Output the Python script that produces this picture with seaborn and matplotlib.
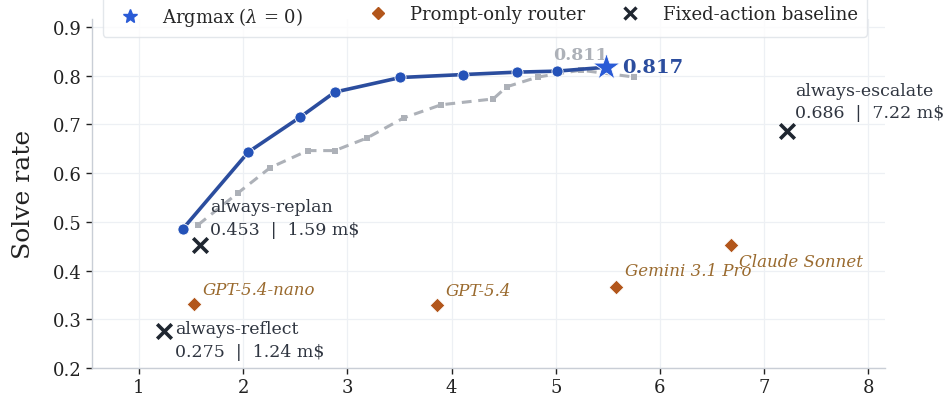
import pandas as pd
import seaborn as sns
import matplotlib.pyplot as plt
from matplotlib.lines import Line2D

# learned router, lambda sweep (cost in m$, solve rate)
front_cost = [1.42, 2.05, 2.55, 2.88, 3.51, 4.11, 4.63, 5.01, 5.48]
front_solve = [0.485, 0.643, 0.715, 0.766, 0.796, 0.802, 0.807, 0.809, 0.817]

# greedy threshold sweep
greedy_cost = [1.57, 1.95, 2.26, 2.62, 2.88, 3.19, 3.54, 3.90, 4.40, 4.53, 4.83, 5.24, 5.75]
greedy_solve = [0.494, 0.559, 0.611, 0.646, 0.646, 0.672, 0.713, 0.740, 0.752, 0.777, 0.797, 0.811, 0.797]

argmax_cost = [5.48]
argmax_solve = [0.817]

prompt_names = ["GPT-5.4-nano", "GPT-5.4", "Gemini 3.1 Pro", "Claude Sonnet"]
prompt_cost = [1.53, 3.86, 5.58, 6.68]
prompt_solve = [0.331, 0.329, 0.367, 0.453]

fixed_names = ["always-replan", "always-reflect", "always-escalate"]
fixed_cost = [1.59, 1.24, 7.22]
fixed_solve = [0.453, 0.275, 0.686]

BLUE_LINE = "#2b4d9e"
BLUE_DOT = "#2452b8"
BLUE_STAR = "#2a5bd6"
GRAY = "#adb1b8"
BROWN = "#b2561b"
BROWN_TXT = "#9a6a2e"
DARK = "#1f2630"
TXT = "#2f3540"

sns.set_theme(style="whitegrid")
plt.rcParams["font.family"] = "serif"
plt.rcParams["font.serif"] = ["DejaVu Serif"]
plt.rcParams["mathtext.fontset"] = "dejavuserif"

fig = plt.figure(figsize=(9.45, 4.02), dpi=100)
ax = fig.add_axes([92 / 945, 33 / 402, 793 / 945, 349 / 402])

sns.lineplot(x=greedy_cost, y=greedy_solve, ax=ax, color=GRAY, lw=2.2,
             linestyle=(0, (3.2, 2.2)), marker="s", markersize=5,
             markeredgewidth=0, zorder=2)
sns.lineplot(x=front_cost, y=front_solve, ax=ax, color=BLUE_LINE, lw=2.6,
             marker="o", markersize=8, markerfacecolor=BLUE_DOT,
             markeredgecolor="white", markeredgewidth=0.6, zorder=3)
sns.scatterplot(x=argmax_cost, y=argmax_solve, ax=ax, marker="*", s=420,
                color=BLUE_STAR, edgecolor="white", linewidth=0.6, zorder=5)
sns.scatterplot(x=prompt_cost, y=prompt_solve, ax=ax, marker="D", s=55,
                color=BROWN, edgecolor="white", linewidth=0.5, zorder=4)
sns.scatterplot(x=fixed_cost, y=fixed_solve, ax=ax, marker="x", s=110,
                color=DARK, linewidth=2.6, zorder=4)

# labels
ax.annotate(f"{argmax_solve[0]:.3f}", (argmax_cost[0], argmax_solve[0]),
            xytext=(16, 0), textcoords="offset pixels", ha="left", va="center",
            fontsize=14, fontweight="bold", color=BLUE_LINE)
gmax = greedy_solve.index(max(greedy_solve))
ax.annotate(f"{greedy_solve[gmax]:.3f}", (greedy_cost[gmax], greedy_solve[gmax]),
            xytext=(0, 7), textcoords="offset pixels", ha="center", va="bottom",
            fontsize=12.5, fontweight="bold", color=GRAY)

prompt_offsets = [(9, 6, "bottom"), (9, 6, "bottom"), (9, 8, "bottom"), (8, -17, "center")]
for name, cx, cy, (dx, dy, va) in zip(prompt_names, prompt_cost, prompt_solve, prompt_offsets):
    ax.annotate(name, (cx, cy), xytext=(dx, dy), textcoords="offset pixels",
                ha="left", va=va, fontsize=12, fontstyle="italic", color=BROWN_TXT)

fixed_offsets = [(10, 7, "bottom"), (11, 11, "top"), (8, 10, "bottom")]
for name, cx, cy, (dx, dy, va) in zip(fixed_names, fixed_cost, fixed_solve, fixed_offsets):
    ax.annotate(f"{name}\n{cy:.3f}  |  {cx:.2f} m$", (cx, cy), xytext=(dx, dy),
                textcoords="offset pixels", ha="left", va=va, fontsize=12.5,
                color=TXT, linespacing=1.4)

ax.set_xlim(0.55, 8.16)
ax.set_ylim(0.2, 0.916)
ax.set_xticks(range(1, 9))
ax.set_yticks([0.2, 0.3, 0.4, 0.5, 0.6, 0.7, 0.8, 0.9])
ax.set_ylabel("Solve rate", fontsize=18, color="#222222", labelpad=13)
ax.set_xlabel("")
ax.tick_params(axis="both", labelsize=13, colors="#222222", length=4, width=1,
               left=True, bottom=True)
ax.grid(True, color="#edf0f4", lw=0.9)
sns.despine(ax=ax)
for s in ["left", "bottom"]:
    ax.spines[s].set_color("#c9ced6")
    ax.spines[s].set_linewidth(1.0)

handles = [
    Line2D([], [], color=BLUE_LINE, lw=2.6, marker="o", markersize=7,
           markerfacecolor=BLUE_DOT, markeredgecolor="white"),
    Line2D([], [], color=BLUE_STAR, lw=0, marker="*", markersize=10),
    Line2D([], [], color=GRAY, lw=2.2, linestyle=(0, (3.2, 2.2)), marker="s", markersize=5),
    Line2D([], [], color=BROWN, lw=0, marker="D", markersize=6),
    Line2D([], [], lw=0, alpha=0),
    Line2D([], [], color=DARK, lw=0, marker="x", markersize=9, markeredgewidth=2.4),
]
labels = ["Pareto front (ours)", r"Argmax ($\lambda$ = 0)", "Greedy threshold",
          "Prompt-only router", "", "Fixed-action baseline"]
fig.legend(handles, labels, ncol=3, loc="lower center",
           bbox_to_anchor=(0.513, 1 - 47 / 402),
           fontsize=13, frameon=True, facecolor="white", edgecolor="#dde1e6",
           columnspacing=1.5, handletextpad=0.8, borderpad=0.5)

fig.savefig("out.png", dpi=100)
